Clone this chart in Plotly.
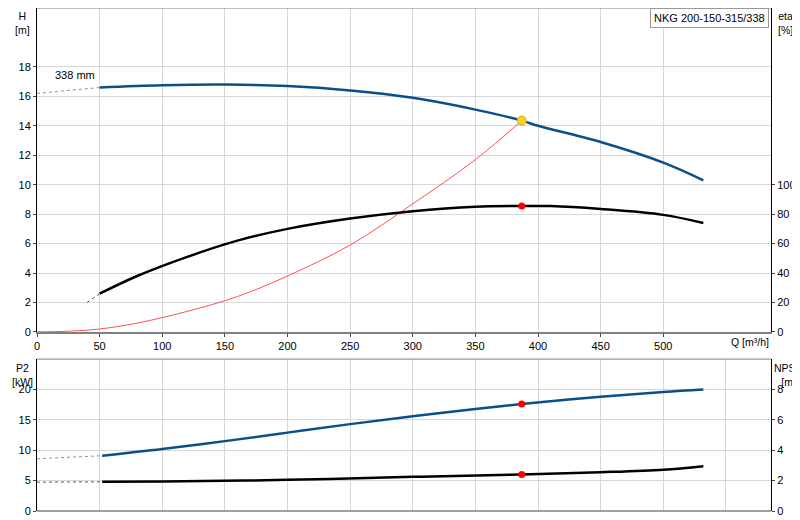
import plotly.graph_objects as go

q_h = [50, 100, 150, 200, 250, 300, 350, 387, 400, 450, 500, 532]
h = [16.6, 16.75, 16.8, 16.7, 16.4, 15.9, 15.1, 14.35, 14.0, 12.9, 11.5, 10.3]
q_h_ext = [0, 50]
h_ext = [16.2, 16.6]

q_eta = [50, 80, 120, 160, 200, 250, 300, 350, 387, 410, 450, 500, 532]
eta = [26, 38, 51, 62, 70, 77, 82, 85, 85.5, 85.5, 83.5, 79.5, 74]
q_eta_ext = [40, 50]
eta_ext = [20, 26]

q_sys = [0, 25, 50, 80, 120, 160, 200, 250, 300, 350, 387]
h_sys = [0, 0.05, 0.2, 0.6, 1.4, 2.4, 3.8, 5.9, 8.7, 11.7, 14.35]

q_p = [52, 100, 150, 200, 250, 300, 350, 387, 450, 500, 532]
p2 = [9.1, 10.2, 11.5, 12.9, 14.3, 15.6, 16.8, 17.6, 18.8, 19.6, 20.0]
q_p_ext = [0, 52]
p2_ext = [8.6, 9.1]

q_n = [52, 100, 200, 300, 387, 450, 500, 532]
npsh = [1.92, 1.94, 2.05, 2.25, 2.4, 2.55, 2.72, 2.95]
q_n_ext = [0, 52]
npsh_ext = [1.9, 1.92]

duty_q = 387
duty_h = 14.35
duty_eta = 85.5
duty_p2 = 17.6
duty_npsh = 2.4

blue = "#0b4f8a"
fig = go.Figure()
fig.add_trace(go.Scatter(x=q_h_ext, y=h_ext, mode="lines", line=dict(color="#7f95b5", width=1, dash="dot"), xaxis="x", yaxis="y"))
fig.add_trace(go.Scatter(x=q_h, y=h, mode="lines", line=dict(color=blue, width=2.5, shape="spline"), xaxis="x", yaxis="y"))
fig.add_trace(go.Scatter(x=q_sys, y=h_sys, mode="lines", line=dict(color="#ff5050", width=1, shape="spline"), xaxis="x", yaxis="y"))
fig.add_trace(go.Scatter(x=q_eta_ext, y=eta_ext, mode="lines", line=dict(color="#555", width=1, dash="dot"), xaxis="x", yaxis="y2"))
fig.add_trace(go.Scatter(x=q_eta, y=eta, mode="lines", line=dict(color="black", width=2.5, shape="spline"), xaxis="x", yaxis="y2"))
fig.add_trace(go.Scatter(x=[duty_q], y=[duty_eta], mode="markers", marker=dict(color="red", size=7), xaxis="x", yaxis="y2"))
fig.add_trace(go.Scatter(x=[duty_q], y=[duty_h], mode="markers", marker=dict(color="#ffd21f", size=9, line=dict(color="#e0a000", width=1)), xaxis="x", yaxis="y"))
fig.add_trace(go.Scatter(x=q_p_ext, y=p2_ext, mode="lines", line=dict(color="#7f95b5", width=1, dash="dot"), xaxis="x2", yaxis="y3"))
fig.add_trace(go.Scatter(x=q_p, y=p2, mode="lines", line=dict(color=blue, width=2.5, shape="spline"), xaxis="x2", yaxis="y3"))
fig.add_trace(go.Scatter(x=[duty_q], y=[duty_p2], mode="markers", marker=dict(color="red", size=7), xaxis="x2", yaxis="y3"))
fig.add_trace(go.Scatter(x=q_n_ext, y=npsh_ext, mode="lines", line=dict(color="#555", width=1, dash="dot"), xaxis="x2", yaxis="y4"))
fig.add_trace(go.Scatter(x=q_n, y=npsh, mode="lines", line=dict(color="black", width=2.5, shape="spline"), xaxis="x2", yaxis="y4"))
fig.add_trace(go.Scatter(x=[duty_q], y=[duty_npsh], mode="markers", marker=dict(color="red", size=7), xaxis="x2", yaxis="y4"))

grid = "#d8d8d8"
tf = dict(family="Liberation Sans, Arial", size=11, color="black")
xcommon = dict(range=[0, 586], dtick=50, gridcolor=grid, zeroline=False, tickfont=tf)
fig.update_layout(
    width=800, height=520, showlegend=False, plot_bgcolor="white", paper_bgcolor="white",
    margin=dict(l=29, r=37, t=0, b=17, autoexpand=False),
    font=tf,
    xaxis=dict(**xcommon, domain=[0, 1], anchor="y", tickvals=list(range(0, 501, 50)),
               ticks="outside", ticklen=3,
               showline=True, linecolor="#808080", linewidth=2, mirror=False),
    yaxis=dict(domain=[0.356, 1], range=[0, 22], tickvals=list(range(0, 19, 2)), gridcolor=grid, zeroline=False,
               showline=True, linecolor="black", linewidth=1, ticks="outside", ticklen=3, tickfont=tf),
    yaxis2=dict(overlaying="y", side="right", anchor="x", range=[0, 220], tickvals=list(range(0, 101, 20)),
                showgrid=False, zeroline=False, showline=True, linecolor="black", ticks="outside", ticklen=3, tickfont=tf),
    xaxis2=dict(**xcommon, domain=[0, 1], anchor="y3", showticklabels=False, showline=False, ticks=""),
    yaxis3=dict(domain=[0, 0.302], range=[0, 25], tickvals=[0, 5, 10, 15, 20], gridcolor=grid, zeroline=False,
                showline=True, linecolor="black", ticks="outside", ticklen=3, tickfont=tf),
    yaxis4=dict(overlaying="y3", side="right", anchor="x2", range=[0, 10], tickvals=[0, 2, 4, 6, 8], showgrid=False, zeroline=False,
                showline=True, linecolor="black", ticks="outside", ticklen=3, tickfont=tf),
)
fig.add_shape(type="line", xref="paper", yref="paper", x0=0, x1=1, y0=1, y1=1, line=dict(color="#808080", width=1))
fig.add_shape(type="line", xref="paper", yref="paper", x0=0, x1=1, y0=0.302, y1=0.302, line=dict(color="#808080", width=1))
fig.add_shape(type="line", xref="paper", yref="paper", x0=0, x1=1, y0=0, y1=0, line=dict(color="#808080", width=1.5))

ann = [
    dict(text="H<br>[m]", x=-0.02, y=1.0, xanchor="center", yanchor="top"),
    dict(text="eta<br>[%]", x=1.02, y=1.0, xanchor="center", yanchor="top"),
    dict(text="P2<br>[kW]", x=-0.02, y=0.3, xanchor="center", yanchor="top"),
    dict(text="NPSH<br>[m]", x=1.024, y=0.3, xanchor="center", yanchor="top"),
    dict(text="Q [m³/h]", x=0.972, y=0.356, xanchor="center", yanchor="top", yshift=-2),
]
for a in ann:
    fig.add_annotation(xref="paper", yref="paper", showarrow=False, font=dict(family="Liberation Sans, Arial", size=10.5, color="black"), align="center", **a)
fig.add_annotation(text="338 mm", x=30, y=16.9, xref="x", yref="y", showarrow=False, font=tf, yanchor="bottom")
fig.add_annotation(text="NKG 200-150-315/338", xref="paper", yref="paper", x=1, y=1, xanchor="right", yanchor="top",
                   showarrow=False, font=tf, bgcolor="white", bordercolor="#999", borderwidth=1, borderpad=3, xshift=-2)
fig.write_html("out.html")
